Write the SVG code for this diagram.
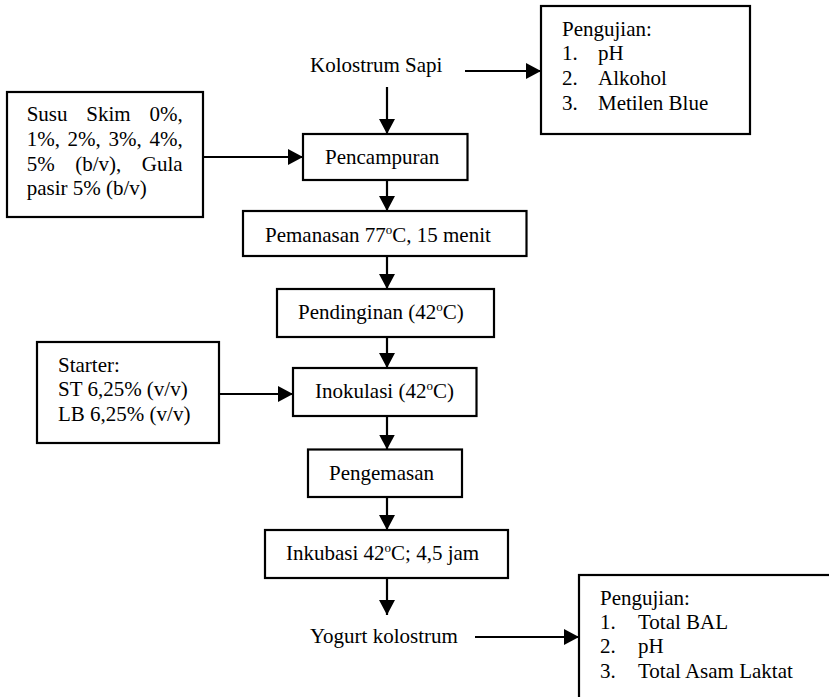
<svg xmlns="http://www.w3.org/2000/svg" width="829" height="697" viewBox="0 0 829 697">
<style>
text{font-family:"Liberation Serif","Times New Roman",serif;font-size:21px;fill:#000}
.box{fill:#fff;stroke:#000;stroke-width:2.2}
.con{stroke:#000;stroke-width:2.2;fill:none;marker-end:url(#ah)}
.sup{font-size:13px}
</style>
<defs>
<marker id="ah" markerUnits="userSpaceOnUse" markerWidth="15" markerHeight="16" refX="15" refY="8" orient="auto">
<path d="M0,0 L15,8 L0,16 z" fill="#000"/>
</marker>
</defs>
<rect width="829" height="697" fill="#fff"/>

<g id="kolostrum-sapi">
<text x="310" y="72">Kolostrum Sapi</text>
</g>

<g id="pengujian-1">
<rect class="box" x="541" y="6" width="209" height="128"/>
<text x="562" y="35.5">Pengujian:</text>
<text x="562" y="60">1.</text><text x="598" y="60">pH</text>
<text x="562" y="84.5">2.</text><text x="598" y="84.5">Alkohol</text>
<text x="562" y="109.5">3.</text><text x="598" y="109.5">Metilen Blue</text>
</g>

<g id="susu-skim">
<rect class="box" x="7" y="92" width="196" height="125"/>
<text x="26.7" y="121">Susu</text><text x="86.3" y="121">Skim</text><text x="182.7" y="121" text-anchor="end">0%,</text>
<text x="26.7" y="146">1%,</text><text x="67.6" y="146">2%,</text><text x="108.5" y="146">3%,</text><text x="182.7" y="146" text-anchor="end">4%,</text>
<text x="26.7" y="170.5">5%</text><text x="75.2" y="170.5">(b/v),</text><text x="182.7" y="170.5" text-anchor="end">Gula</text>
<text x="26.7" y="195">pasir 5% (b/v)</text>
</g>

<g id="pencampuran">
<rect class="box" x="303" y="134" width="164.5" height="46"/>
<text x="325" y="164">Pencampuran</text>
</g>

<g id="pemanasan">
<rect class="box" x="243" y="211" width="283.5" height="45"/>
<text x="265" y="241.5">Pemanasan 77<tspan class="sup" dy="-8">o</tspan><tspan dy="8">C, 15 menit</tspan></text>
</g>

<g id="pendinginan">
<rect class="box" x="277" y="289" width="217" height="48"/>
<text x="298" y="319">Pendinginan (42<tspan class="sup" dy="-8">o</tspan><tspan dy="8">C)</tspan></text>
</g>

<g id="starter">
<rect class="box" x="37" y="342" width="182" height="101"/>
<text x="58" y="371.5">Starter:</text>
<text x="58" y="396">ST 6,25% (v/v)</text>
<text x="58" y="420.5">LB 6,25% (v/v)</text>
</g>

<g id="inokulasi">
<rect class="box" x="293" y="368" width="183.5" height="48"/>
<text x="315" y="398">Inokulasi (42<tspan class="sup" dy="-8">o</tspan><tspan dy="8">C)</tspan></text>
</g>

<g id="pengemasan">
<rect class="box" x="308" y="449.5" width="154" height="47.5"/>
<text x="329" y="480">Pengemasan</text>
</g>

<g id="inkubasi">
<rect class="box" x="265" y="530" width="243" height="48"/>
<text x="286" y="560">Inkubasi 42<tspan class="sup" dy="-8">o</tspan><tspan dy="8">C; 4,5 jam</tspan></text>
</g>

<g id="yogurt-kolostrum">
<text x="310" y="643">Yogurt kolostrum</text>
</g>

<g id="pengujian-2">
<rect class="box" x="579" y="575" width="270" height="140"/>
<text x="600" y="604.5">Pengujian:</text>
<text x="600" y="628.5">1.</text><text x="638" y="628.5">Total BAL</text>
<text x="600" y="653">2.</text><text x="638" y="653">pH</text>
<text x="600" y="677.5">3.</text><text x="638" y="677.5">Total Asam Laktat</text>
</g>

<g id="connectors">
<line class="con" x1="465" y1="71" x2="541" y2="71"/>
<line class="con" x1="387" y1="87" x2="387" y2="134"/>
<line class="con" x1="203" y1="157" x2="303" y2="157"/>
<line class="con" x1="387" y1="180" x2="387" y2="211"/>
<line class="con" x1="387" y1="256" x2="387" y2="289"/>
<line class="con" x1="387" y1="337" x2="387" y2="368"/>
<line class="con" x1="219" y1="394" x2="293" y2="394"/>
<line class="con" x1="387" y1="416" x2="387" y2="449.5"/>
<line class="con" x1="387" y1="497" x2="387" y2="530"/>
<line class="con" x1="387" y1="578" x2="387" y2="615"/>
<line class="con" x1="475" y1="637" x2="579" y2="637"/>
</g>
</svg>
